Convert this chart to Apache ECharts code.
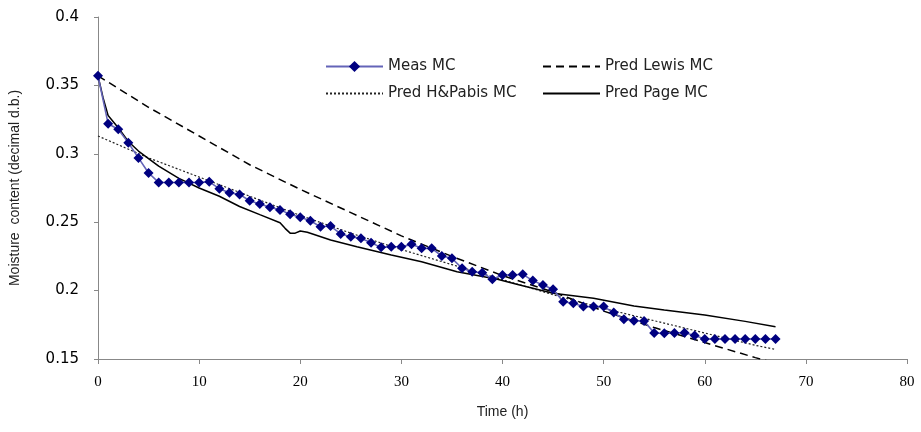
<!DOCTYPE html>
<html>
<head>
<meta charset="utf-8">
<script src="https://cdn.jsdelivr.net/npm/echarts@6/dist/echarts.min.js"></script>
<style>
  html, body { margin: 0; padding: 0; background: #fff; }
  #chart { width: 921px; height: 432px; }
</style>
</head>
<body>
<div id="chart"></div>
<script>
// measured moisture content, one reading per hour
var measTime = [0, 1, 2, 3, 4, 5, 6, 7, 8, 9, 10, 11, 12, 13, 14, 15, 16, 17, 18, 19,
  20, 21, 22, 23, 24, 25, 26, 27, 28, 29, 30, 31, 32, 33, 34, 35, 36, 37, 38, 39,
  40, 41, 42, 43, 44, 45, 46, 47, 48, 49, 50, 51, 52, 53, 54, 55, 56, 57, 58, 59,
  60, 61, 62, 63, 64, 65, 66, 67];
var measMC = [0.357, 0.322, 0.318, 0.308, 0.297, 0.286, 0.279, 0.279, 0.279, 0.279,
  0.279, 0.2795, 0.2745, 0.2716, 0.2703, 0.2657, 0.2633, 0.261, 0.259, 0.2558,
  0.2536, 0.2511, 0.2467, 0.2472, 0.2414, 0.2394, 0.2382, 0.235, 0.2316, 0.2321,
  0.2321, 0.2338, 0.2309, 0.2309, 0.2253, 0.2236, 0.2163, 0.2138, 0.2131, 0.2083,
  0.2114, 0.2114, 0.2119, 0.2073, 0.2041, 0.201, 0.1919, 0.1907, 0.1883, 0.1883,
  0.1883, 0.1839, 0.179, 0.178, 0.1778, 0.169, 0.1688, 0.169, 0.1692, 0.1672,
  0.1646, 0.1646, 0.1646, 0.1646, 0.1646, 0.1646, 0.1646, 0.1646];

// model curves
var lewisTime = [0, 5, 10, 15, 20, 25, 30, 35, 40, 45, 50, 55, 60, 65, 67];
var lewisMC = [0.357, 0.334, 0.313, 0.292, 0.274, 0.257, 0.240, 0.225, 0.211, 0.199, 0.185, 0.173, 0.162, 0.151, 0.147];

var pabisTime = [0, 5, 10, 15, 20, 25, 30, 35, 40, 45, 50, 55, 60, 65, 67];
var pabisMC = [0.313, 0.297, 0.283, 0.269, 0.255, 0.242, 0.230, 0.219, 0.208, 0.197, 0.187, 0.178, 0.169, 0.160, 0.157];

var pageTime = [0, 0.5, 1, 2, 3, 4, 6, 8, 10, 12, 14, 16, 18, 18.5, 19, 19.5, 20, 20.7,
  23, 25.6, 29, 32, 35.5, 39.5, 41.5, 45, 49, 53, 56, 60, 64, 67];
var pageMC = [0.357, 0.341, 0.328, 0.319, 0.309, 0.302, 0.291, 0.282, 0.275, 0.269,
  0.2615, 0.2555, 0.2496, 0.2455, 0.242, 0.242, 0.2436, 0.2426, 0.237, 0.2321,
  0.226, 0.2211, 0.2138, 0.2083, 0.2045, 0.198, 0.1944, 0.1887, 0.1858, 0.1822,
  0.1775, 0.1736];

var xTicks = { min: 0, max: 80, interval: 10 };
var yTicks = { min: 0.15, max: 0.4, interval: 0.05 };

function pairs(xs, ys) {
  var out = [];
  for (var i = 0; i < xs.length; i++) out.push([xs[i], ys[i]]);
  return out;
}

var chart = echarts.init(document.getElementById('chart'));

var legendText = { fontFamily: 'DejaVu Sans', fontSize: 15, color: '#222' };
// line-only legend entry (hide the symbol part)
function lineOnly(name) {
  return { name: name, itemStyle: { opacity: 0 } };
}

var option = {
  animation: false,
  backgroundColor: '#fff',
  grid: { left: 98, right: 14, top: 17, bottom: 73 },
  legend: [{
    orient: 'vertical',
    left: 320, top: 54,
    itemWidth: 57, itemHeight: 14, itemGap: 12,
    textStyle: legendText,
    data: ['Meas MC', lineOnly('Pred H&Pabis MC')]
  }, {
    orient: 'vertical',
    left: 537, top: 54,
    itemWidth: 57, itemHeight: 14, itemGap: 12,
    textStyle: legendText,
    data: [lineOnly('Pred Lewis MC'), lineOnly('Pred Page MC')]
  }],
  xAxis: {
    type: 'value',
    min: xTicks.min, max: xTicks.max, interval: xTicks.interval,
    name: 'Time (h)',
    nameLocation: 'middle',
    nameGap: 46,
    nameTextStyle: { fontFamily: 'Liberation Sans', fontSize: 14, color: '#222' },
    axisLine: { lineStyle: { color: '#888', width: 1 } },
    axisTick: { show: true, length: 5, lineStyle: { color: '#888' } },
    axisLabel: { margin: 16, fontFamily: 'Liberation Sans Narrow', fontSize: 15, color: '#000' },
    splitLine: { show: false }
  },
  yAxis: {
    type: 'value',
    min: yTicks.min, max: yTicks.max, interval: yTicks.interval,
    name: 'Moisture  content (decimal d.b.)',
    nameLocation: 'middle',
    nameGap: 76,
    nameTextStyle: { fontFamily: 'Liberation Sans', fontSize: 14, color: '#222' },
    axisLine: { show: true, lineStyle: { color: '#888', width: 1 } },
    axisTick: { show: true, length: 4, lineStyle: { color: '#888' } },
    axisLabel: {
      margin: 19, fontFamily: 'DejaVu Sans', fontSize: 15, color: '#000',
      formatter: function (v) { return String(+v.toFixed(2)); }
    },
    splitLine: { show: false }
  },
  series: [{
    name: 'Meas MC',
    type: 'line',
    data: pairs(measTime, measMC),
    symbol: 'diamond',
    symbolSize: 10,
    itemStyle: { color: '#000080' },
    lineStyle: { color: '#6464b8', width: 1.6 },
    z: 5
  }, {
    name: 'Pred Lewis MC',
    type: 'line',
    data: pairs(lewisTime, lewisMC),
    symbol: 'none',
    itemStyle: { color: '#000' },
    lineStyle: { color: '#000', width: 1.5, type: [8, 5] }
  }, {
    name: 'Pred H&Pabis MC',
    type: 'line',
    data: pairs(pabisTime, pabisMC),
    symbol: 'none',
    itemStyle: { color: '#000' },
    lineStyle: { color: '#222', width: 1.2, type: [2, 2] }
  }, {
    name: 'Pred Page MC',
    type: 'line',
    data: pairs(pageTime, pageMC),
    symbol: 'none',
    itemStyle: { color: '#000' },
    lineStyle: { color: '#000', width: 1.5 }
  }]
};

chart.setOption(option);
</script>
</body>
</html>
